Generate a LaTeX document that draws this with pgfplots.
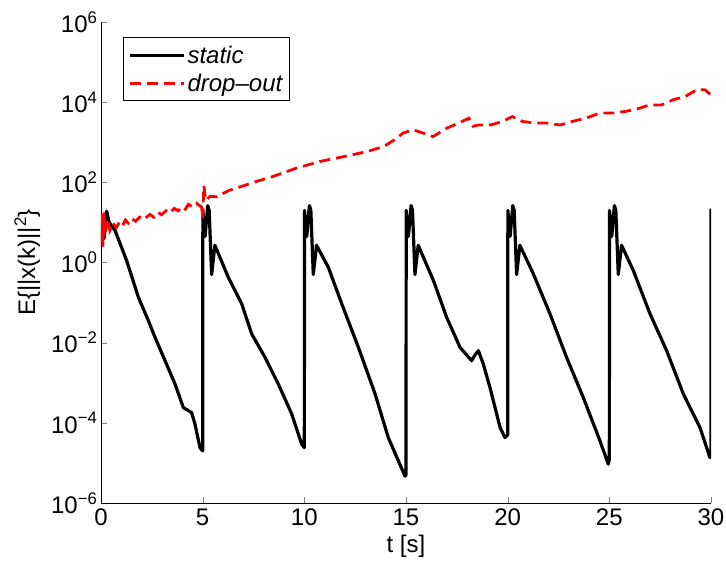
\documentclass[border=0pt]{standalone}
\usepackage{fontspec}
\setmainfont{Liberation Sans}
\usepackage{pgfplots}
\pgfplotsset{compat=1.18}
\begin{document}
\begin{tikzpicture}
\begin{axis}[
  scale only axis, width=610pt, height=481pt,
  xmin=0, xmax=30, ymode=log, ymin=1e-6, ymax=1e6,
  xtick={0,5,...,30},
  ytick={1e-6,1e-4,1e-2,1,1e2,1e4,1e6},
  yticklabels={10\textsuperscript{−6},10\textsuperscript{−4},10\textsuperscript{−2},10\textsuperscript{0},10\textsuperscript{2},10\textsuperscript{4},10\textsuperscript{6}},
  yminorticks=false,
  axis x line*=bottom, axis y line*=left,
  tick align=inside,
  major tick length=6pt,
  axis line style={line width=0.8pt},
  /pgf/number format/assume math mode=true,
  tick label style={font=\fontsize{24}{26}\selectfont},
  label style={font=\fontsize{24}{26}\selectfont},
  xlabel={t [s]}, ylabel={E\{||x(k)||\textsuperscript{2}\}},
  ylabel style={yshift=4pt},
  xticklabel style={yshift=-2pt},
  xlabel style={yshift=-3pt},
  legend style={at={(0.036,0.968)}, anchor=north west, draw=black, line width=0.8pt,
    font=\itshape\fontsize{24}{26}\selectfont, inner xsep=5pt, inner ysep=6pt, row sep=5pt},
  legend cell align=left,
  legend image code/.code={\draw[#1] (0pt,0pt) -- (54pt,0pt);},
  clip=true,
]
\addplot[black, line width=3.2pt, line join=round] coordinates {
(0,2.4) (0.1,12.6) (0.15,4) (0.28,19) (0.4,10) (0.69,6.3) (1.26,1.12) (1.84,0.135)
(2.33,0.0355) (2.66,0.0135) (3.15,3.55e-3) (3.64,9.3e-4) (4.05,2.4e-4) (4.46,1.8e-4)
(4.62,9.3e-5) (4.87,2.4e-5) (5.0,2.0e-5)
(5.01,20) (5.12,4.47) (5.25,26.3) (5.32,20) (5.44,0.5) (5.6,2.69)
(6.26,0.427) (6.92,0.0933) (7.41,0.0166) (8.07,4.27e-3) (8.72,9.3e-4) (9.38,1.66e-4)
(9.87,2.95e-5) (10.0,2.4e-5)
(10.01,20) (10.12,4.47) (10.25,26.3) (10.32,20) (10.44,0.5) (10.6,2.69)
(11.18,0.76) (11.84,0.0933) (12.66,7.6e-3) (13.48,5.25e-4) (14.13,4.27e-5) (14.95,4.7e-6) (15.0,5e-6)
(15.01,20) (15.12,4.47) (15.25,26.3) (15.32,20) (15.44,0.5) (15.6,2.69)
(16.35,0.355) (17.0,0.0427) (17.66,7.6e-3) (18.23,3.55e-3) (18.4,5e-3) (18.56,6.3e-3)
(18.8,2.95e-3) (19.13,7.6e-4) (19.63,7.6e-5) (19.87,4.27e-5) (20.0,5e-5)
(20.01,20) (20.12,4.47) (20.25,26.3) (20.32,20) (20.44,0.5) (20.6,2.69)
(21.26,0.525) (22.08,0.0525) (22.9,4.27e-3) (23.72,4.27e-4) (24.54,3.55e-5) (24.95,9.3e-6) (25.0,1.26e-5)
(25.01,20) (25.12,4.47) (25.25,26.3) (25.32,20) (25.44,0.5) (25.6,2.69)
(26.18,0.63) (27.0,0.0525) (27.82,6.3e-3) (28.64,5.25e-4) (29.46,7.6e-5) (29.95,1.35e-5)
(30.0,2e-5) (30.001,22)
};
\addlegendentry{static}
\addplot[red, line width=2.8pt, dash pattern=on 11pt off 6pt] coordinates {
(0,3.16) (0.05,15.8) (0.1,2.5) (0.15,17.8) (0.22,5) (0.3,12.6) (0.44,6.3) (0.6,9.5) (0.75,7.4)
(0.9,10) (1.05,8.1) (1.2,11.5) (1.34,9.6) (1.5,12.6) (1.7,10.7) (1.9,13.5) (2.1,11.8)
(2.4,15.8) (2.6,13.5) (2.8,17.8) (2.98,15.5) (3.2,19.5) (3.4,17) (3.6,22.4) (3.8,19.5)
(4.0,25) (4.15,21.4) (4.3,28.2) (4.5,24.5) (4.7,30) (4.95,24)
(5.0,12.6) (5.06,83) (5.15,35.5) (5.36,44.7) (5.68,43.7) (6.3,63) (6.86,77.6) (7.64,105)
(8.42,138) (9.59,224) (10.76,331) (11.93,437) (13.1,589) (13.89,776) (14.4,1122)
(14.86,1698) (15.35,2042) (15.84,1698) (16.33,1380) (17.0,2239) (17.6,3020) (18.09,3981)
(18.3,2512) (18.57,2692) (19.16,2692) (19.75,3311) (20.23,4365) (20.72,3311) (21.3,3020)
(21.9,3020) (22.58,2692) (23.26,3388) (23.85,3981) (24.53,5370) (25.2,5370) (25.8,5888)
(26.37,6761) (26.97,8511) (27.56,8511) (28.14,11482) (28.73,13804) (29.3,20417)
(29.7,20417) (30,15136)
};
\addlegendentry{drop–out}
\end{axis}
\path (current axis.south west) +(-101pt,-64pt) coordinate (bbbl);
\path (current axis.north east) +(15pt,22pt) coordinate (bbtr);
\pgfresetboundingbox
\path[use as bounding box] (bbbl) rectangle (bbtr);
\end{tikzpicture}
\end{document}
